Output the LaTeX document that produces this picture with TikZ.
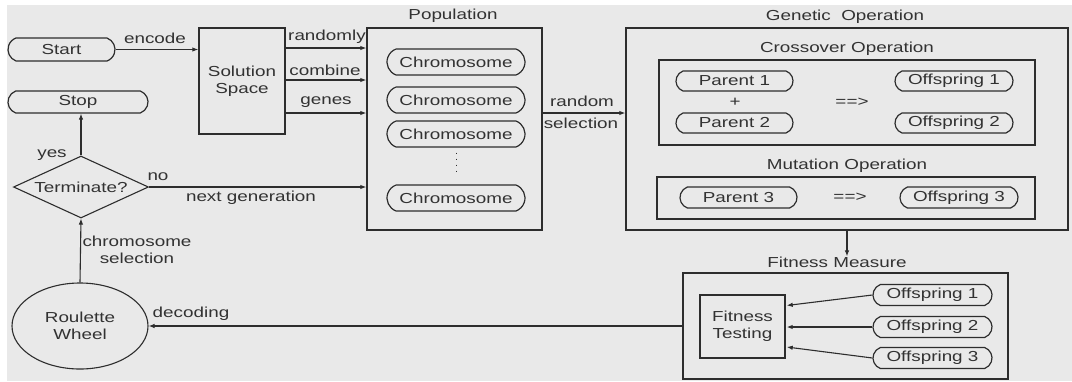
\documentclass[tikz,border=0pt]{standalone}
\usepackage{fontspec}
\newfontfamily\dgfont{Liberation Sans}[FakeStretch=1.3]
\usetikzlibrary{shapes.geometric,shapes.misc,arrows.meta,calc}
\definecolor{bg}{RGB}{233,233,233}
\definecolor{ink}{RGB}{45,45,45}
\definecolor{txt}{RGB}{50,50,50}
\begin{document}
\begin{tikzpicture}[x=1pt,y=-1pt,
  font=\dgfont\fontsize{14.5}{17}\selectfont, text=txt,
  box/.style={draw=ink, line width=1.4pt, rectangle, inner sep=0pt},
  pill/.style={draw=ink, line width=1.2pt, rounded rectangle, rounded rectangle arc length=140, inner sep=0pt},
  lbl/.style={inner sep=0pt, align=center},
  arr/.style={draw=ink, line width=1.1pt, -{Latex[length=6pt,width=4.5pt]}},
  plain/.style={draw=ink, line width=1.1pt}]
  \useasboundingbox (0,0) rectangle (1072,381);
  \fill[bg] (7,5) rectangle (1072,381);

  % left column: start, stop, decision, roulette wheel
  \node[pill, minimum width=107, minimum height=23] (start) at (61.5,49.5) {Start};
  \node[pill, minimum width=140, minimum height=22] (stop) at (78,102) {Stop};
  \node[draw=ink, line width=1.1pt, diamond, aspect=2.2, inner sep=0pt,
        minimum width=135, minimum height=62] (term) at (81,187) {Terminate?};
  \node[draw=ink, line width=1.1pt, ellipse, inner sep=0pt, align=center,
        minimum width=136, minimum height=86] (wheel) at (80,326) {Roulette\\Wheel};

  % solution space
  \node[box, minimum width=86, minimum height=106, align=center] (sol) at (242,81) {Solution\\Space};

  % population
  \node[box, minimum width=175, minimum height=202] (pop) at (454.5,129) {};
  \node[lbl] (poplbl) at (453,16) {Population};
  \node[pill, minimum width=138, minimum height=26] (c1) at (456,62) {Chromosome};
  \node[pill, minimum width=138, minimum height=26] (c2) at (456,100) {Chromosome};
  \node[pill, minimum width=138, minimum height=26] (c3) at (456,134) {Chromosome};
  \node[pill, minimum width=138, minimum height=26] (c4) at (456,198) {Chromosome};
  \draw[ink, line width=1pt, dash pattern=on 1pt off 5pt, shorten <=5pt, shorten >=9pt] (c3.south) -- (c4.north);

  % genetic operation
  \node[box, minimum width=442, minimum height=202] (gen) at (847,129) {};
  \node[lbl] (genlbl) at (845,17) {Genetic\ \ Operation};
  \node[box, minimum width=376, minimum height=85] (cross) at (847,102.5) {};
  \node[lbl] (crosslbl) at (847,49) {Crossover Operation};
  \node[pill, minimum width=117, minimum height=20] (p1) at (734.5,81) {Parent 1};
  \node[pill, minimum width=117, minimum height=20] (p2) at (734.5,123) {Parent 2};
  \node[pill, minimum width=118, minimum height=20] (o1) at (954,81) {Offspring 1};
  \node[pill, minimum width=118, minimum height=20] (o2) at (954,123) {Offspring 2};
  \node[lbl] (plus) at (735,102) {+};
  \node[lbl] (yields1) at (852,102) {==>};
  \node[box, minimum width=378, minimum height=42] (mut) at (846,198) {};
  \node[lbl] (mutlbl) at (847,166) {Mutation Operation};
  \node[pill, minimum width=117, minimum height=21] (p3) at (738.5,197.5) {Parent 3};
  \node[pill, minimum width=118, minimum height=21] (o3) at (959,197.5) {Offspring 3};
  \node[lbl] (yields2) at (850,197) {==>};

  % fitness measure
  \node[lbl] (fitlbl) at (837,262) {Fitness Measure};
  \node[box, minimum width=325, minimum height=106] (fitbox) at (845.5,326) {};
  \node[box, minimum width=85, minimum height=63, align=center] (test) at (742.5,326.5) {Fitness\\Testing};
  \node[pill, minimum width=119, minimum height=21] (f1) at (932.5,295) {Offspring 1};
  \node[pill, minimum width=119, minimum height=21] (f2) at (932.5,327) {Offspring 2};
  \node[pill, minimum width=119, minimum height=21] (f3) at (932.5,358) {Offspring 3};

  % connectors
  \draw[arr] (start.east) -- (start.east -| sol.west);
  \node[lbl] (enclbl) at (155,38) {encode};

  \coordinate (rowA) at (0,48);
  \coordinate (rowB) at (0,80);
  \coordinate (rowC) at (0,113);
  \draw[arr] (sol.east |- rowA) -- (pop.west |- rowA);
  \draw[arr] (sol.east |- rowB) -- (pop.west |- rowB);
  \draw[arr] (sol.east |- rowC) -- (pop.west |- rowC);
  \node[lbl] (l1) at (327,37) {randomly};
  \node[lbl] (l2) at (325,70) {combine};
  \node[lbl] (l3) at (326,102) {genes};

  \draw[arr] (pop.east |- rowC) -- (gen.west |- rowC);
  \node[lbl] (l4) at (582,101) {random};
  \node[lbl] (l5) at (581,123) {selection};

  \draw[arr] (term.east) -- (term.east -| pop.west);
  \node[lbl] (nolbl) at (158,177) {no};
  \node[lbl] (nextlbl) at (251,198) {next generation};

  \draw[arr] (term.north) -- (term.north |- stop.south);
  \node[lbl] (yeslbl) at (52,155) {yes};

  \draw[arr] (wheel.north) -- (term.south);
  \node[lbl] (sellbl) at (137,250) {chromosome\\selection};

  \draw[arr] (fitbox.west) -- (wheel.east);
  \node[lbl] (declbl) at (191,314) {decoding};

  \draw[arr] (gen.south) -- (gen.south |- fitlbl.north);

  \draw[arr] (f1.west) -- ($(test.east)+(1,-21)$);
  \draw[arr] (f2.west) -- ($(test.east)+(1,0.5)$);
  \draw[arr] (f3.west) -- ($(test.east)+(1,20.5)$);
\end{tikzpicture}
\end{document}
